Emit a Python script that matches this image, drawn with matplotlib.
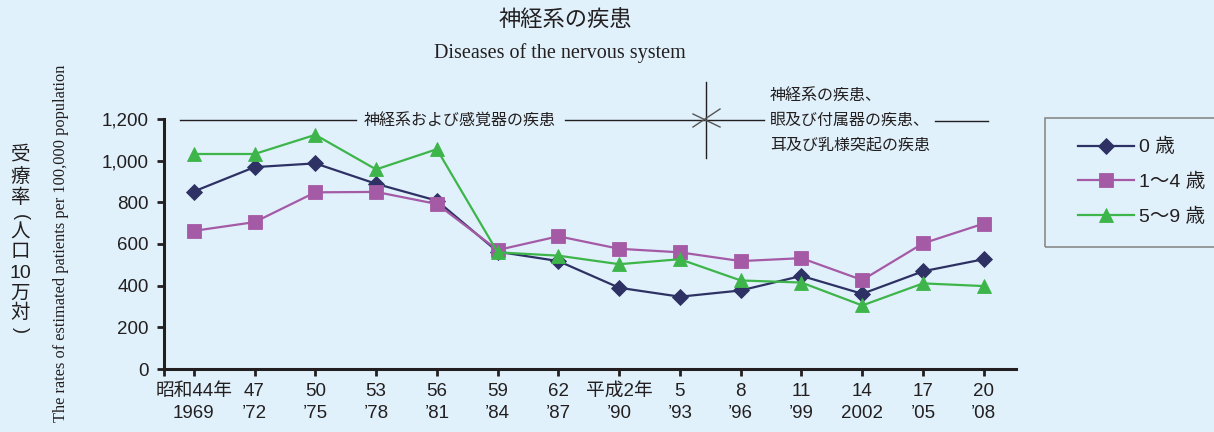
import matplotlib
matplotlib.use("Agg")
import matplotlib.pyplot as plt
from matplotlib.lines import Line2D
from matplotlib.patches import Rectangle
from matplotlib.ticker import FuncFormatter

# ── Data ──────────────────────────────────────────────────────────────────────

ERA_LABELS = ["昭和44年", "47", "50", "53", "56", "59", "62",
              "平成2年", "5", "8", "11", "14", "17", "20"]
YEAR_LABELS = ["1969", "’72", "’75", "’78", "’81", "’84", "’87",
               "’90", "’93", "’96", "’99", "2002", "’05", "’08"]

rate_age0 = [852, 969, 987, 889, 808, 563, 518, 390, 347, 377, 447, 361, 469, 527]
rate_age1_4 = [663, 705, 848, 850, 792, 571, 637, 577, 560, 518, 532, 427, 603, 698]
rate_age5_9 = [1032, 1032, 1124, 958, 1055, 560, 544, 503, 527, 425, 415, 305, 411, 398]

SERIES_LABELS = ["0 歳", "1～4 歳", "5～9 歳"]

# ── Appearance ────────────────────────────────────────────────────────────────

BG = "#e0f1fb"
INK = "#231f20"
COLORS = ["#2e3163", "#a55aa6", "#3db54a"]
MARKERS = ["D", "s", "^"]
MSIZES = [8, 10, 10]
SANS = ["Liberation Sans", "Noto Sans CJK JP", "DejaVu Sans"]
CJK = ["Noto Sans CJK JP", "DejaVu Sans"]

W, H = 1214, 432


def px(x, y):
    """pixel position -> figure fraction"""
    return x / W, 1 - y / H


fig = plt.figure(figsize=(W / 100, H / 100), dpi=100, facecolor=BG)
ax = fig.add_axes([164 / W, 1 - 369 / H, (1016 - 164) / W, (369 - 119) / H])
ax.set_facecolor(BG)

x = list(range(len(ERA_LABELS)))
series = [rate_age0, rate_age1_4, rate_age5_9]
for vals, col, mk, ms, lab in zip(series, COLORS, MARKERS, MSIZES, SERIES_LABELS):
    ax.plot(x, vals, color=col, marker=mk, markersize=ms, linewidth=1.6,
            markeredgewidth=0.6, markeredgecolor=col, label=lab, zorder=3)

ax.set_xlim(-0.49, 13.53)
ax.set_ylim(0, 1200)
ax.set_yticks(range(0, 1201, 200))
ax.yaxis.set_major_formatter(FuncFormatter(lambda v, p: f"{int(v):,}"))
ax.set_xticks(x)
ax.set_xticklabels([f"{a}\n{b}" for a, b in zip(ERA_LABELS, YEAR_LABELS)],
                   linespacing=1.4)
ax.set_xticks([-0.49], minor=True)

for s in ["top", "right"]:
    ax.spines[s].set_visible(False)
for s in ["left", "bottom"]:
    ax.spines[s].set_color(INK)
    ax.spines[s].set_linewidth(2.2)

ax.tick_params(axis="both", which="both", direction="out", length=5, width=2,
               color=INK, labelcolor=INK, labelsize=13.5)
ax.tick_params(axis="x", pad=5)
ax.tick_params(axis="y", pad=6)
for lbl in ax.get_xticklabels() + ax.get_yticklabels():
    lbl.set_fontfamily(SANS)

# ── Titles and axis labels ───────────────────────────────────────────────────

fig.text(*px(565, 20), "神経系の疾患", family=CJK, fontsize=16, color=INK,
         ha="center", va="center")
fig.text(*px(560, 53), "Diseases of the nervous system", family="Liberation Serif",
         fontsize=14.5, color=INK, ha="center", va="center")

fig.text(*px(61, 243), "The rates of estimated patients per 100,000 population",
         family="Liberation Serif", fontsize=11.8, color=INK, rotation=90,
         ha="center", va="center")

# vertical Japanese label, characters upright, brackets turned sideways
vchars = ["受", "療", "率", "(", "人", "口", "10", "万", "対", ")"]
vpos = [155, 177, 198, 217, 233, 252, 273, 294, 313, 330]
for ch, yy in zip(vchars, vpos):
    if ch in "()":
        fig.text(*px(20, yy), ch, family="Liberation Sans", fontsize=13,
                 color=INK, ha="center", va="center", rotation=-90)
    else:
        fig.text(*px(20, yy), ch, family=SANS, fontsize=14, color=INK,
                 ha="center", va="center")

# ── Category bracket above the plot ──────────────────────────────────────────

def fline(x0, y0, x1, y1, **kw):
    a, b = px(x0, y0)
    c, d = px(x1, y1)
    fig.add_artist(Line2D([a, c], [b, d], transform=fig.transFigure, **kw))


fline(180, 120, 356, 120, color=INK, lw=1.0)
fig.text(*px(460, 120), "神経系および感覚器の疾患", family=CJK, fontsize=11.5,
         color=INK, ha="center", va="center")
fline(565, 120, 764, 120, color=INK, lw=1.0)
fline(706, 82, 706, 158, color=INK, lw=1.0)
fline(693, 114, 720, 127, color="#555555", lw=1.0)
fline(693, 127, 720, 109, color="#555555", lw=1.0)
fig.text(*px(770, 120), "神経系の疾患、\n眼及び付属器の疾患、\n耳及び乳様突起の疾患",
         family=CJK, fontsize=11.5, color=INK, ha="left", va="center",
         linespacing=1.6)
fline(935, 121, 988, 121, color=INK, lw=1.0)

# ── Legend ───────────────────────────────────────────────────────────────────

fx, fy = px(1045, 247)
fig.add_artist(Rectangle((fx, fy), (W - 1045 + 10) / W, (247 - 118) / H,
                         transform=fig.transFigure, facecolor="none",
                         edgecolor="#8a8a8a", lw=1.2))
leg = fig.legend(loc="center left", bbox_to_anchor=px(1060, 182), frameon=False,
                 handlelength=2.9, handletextpad=0.25, labelspacing=0.85,
                 prop={"family": SANS, "size": 14})
for t in leg.get_texts():
    t.set_color(INK)

fig.savefig("out.png", dpi=100, facecolor=BG)
